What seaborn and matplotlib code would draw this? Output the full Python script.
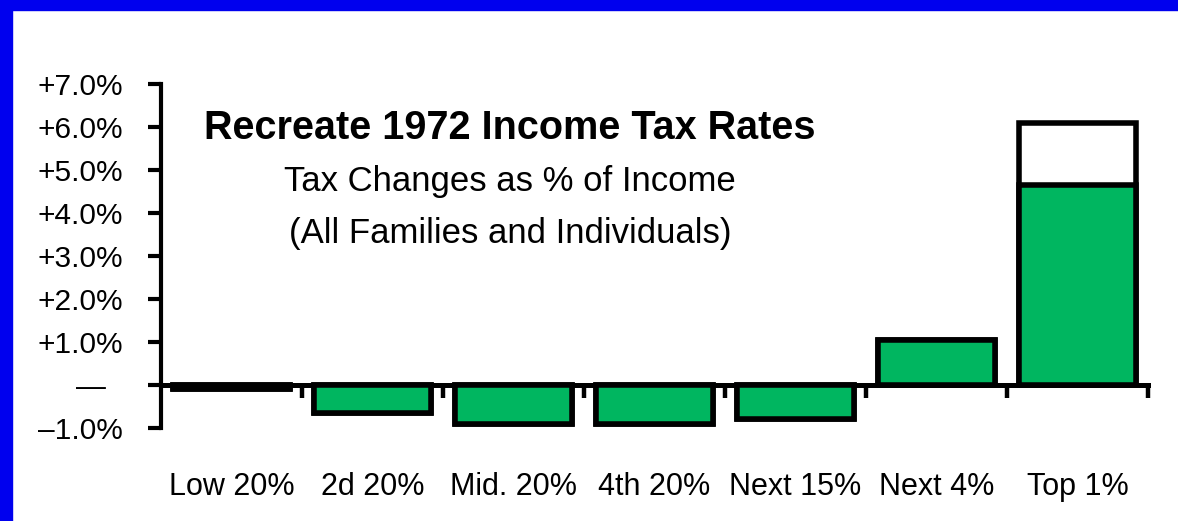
import numpy as np
import pandas as pd
import seaborn as sns
import matplotlib.pyplot as plt
from matplotlib.patches import Rectangle

# values (% of income)
groups = ["Low 20%", "2d 20%", "Mid. 20%", "4th 20%", "Next 15%", "Next 4%", "Top 1%"]
change = [-0.1, -0.65, -0.9, -0.9, -0.8, 1.05, 4.65]
extra = [0, 0, 0, 0, 0, 0, 1.45]   # white top segment, top 1% only
ytick_vals = [7, 6, 5, 4, 3, 2, 1, 0, -1]
ytick_labels = ["+7.0%", "+6.0%", "+5.0%", "+4.0%", "+3.0%", "+2.0%", "+1.0%", "\u2014  ", "\u20131.0%"]

green = "#00B660"
blue = "#0000EE"

df = pd.DataFrame({"group": groups, "change": change, "extra": extra})
df["total"] = df["change"] + df["extra"]

sns.set_style("white")
plt.rcParams["font.family"] = ["Liberation Sans", "DejaVu Sans"]
plt.rcParams["text.color"] = "black"
plt.rcParams["xtick.color"] = "black"
plt.rcParams["ytick.color"] = "black"

fig = plt.figure(figsize=(11.78, 5.21), dpi=100)
ax = fig.add_axes([161 / 1178, 1 - 428 / 521, 987 / 1178, 344 / 521])

# white total bar first, green change bar on top of it
sns.barplot(data=df, x="group", y="total", color="white", saturation=1,
            edgecolor="black", linewidth=4, width=0.83, ax=ax)
sns.barplot(data=df, x="group", y="change", color=green, saturation=1,
            edgecolor="black", linewidth=4, width=0.83, ax=ax)

ax.set_xlim(-0.5, len(groups) - 0.5)
ax.set_ylim(-1, 7)
ax.set_xlabel("")
ax.set_ylabel("")

for side in ["top", "right", "bottom"]:
    ax.spines[side].set_visible(False)
ax.spines["left"].set_linewidth(3)
ax.spines["left"].set_color("black")

ax.set_yticks(ytick_vals)
ax.set_yticklabels(ytick_labels)
ax.tick_params(axis="y", direction="out", length=9.5, width=3, color="black",
               pad=18, labelsize=21.5, left=True, labelcolor="black")
ax.tick_params(axis="x", length=0, pad=32, labelsize=22, labelcolor="black")

# zero line with the category boundary ticks hanging below it
sec = ax.secondary_xaxis(1 / 8)
sec.set_xticks(np.arange(len(groups)) + 0.5)
sec.tick_params(axis="x", direction="out", length=9, width=3.2, color="black",
                labelbottom=False)
sec.spines["bottom"].set_linewidth(3.6)
sec.spines["bottom"].set_color("black")

# slide title
fig.text(510 / 1178, 1 - 128 / 521, "Recreate 1972 Income Tax Rates",
         ha="center", va="center", fontsize=28.5, fontweight="bold", color="black")
fig.text(510 / 1178, 1 - 182 / 521, "Tax Changes as % of Income",
         ha="center", va="center", fontsize=25, color="black")
fig.text(510 / 1178, 1 - 234 / 521, "(All Families and Individuals)",
         ha="center", va="center", fontsize=25, color="black")

# blue slide frame on top and left
fig.patches.append(Rectangle((0, 1 - 10 / 521), 1, 10 / 521, transform=fig.transFigure,
                             color=blue, zorder=0))
fig.patches.append(Rectangle((0, 0), 12 / 1178, 1, transform=fig.transFigure,
                             color=blue, zorder=0))

fig.savefig("out.png", dpi=100)
